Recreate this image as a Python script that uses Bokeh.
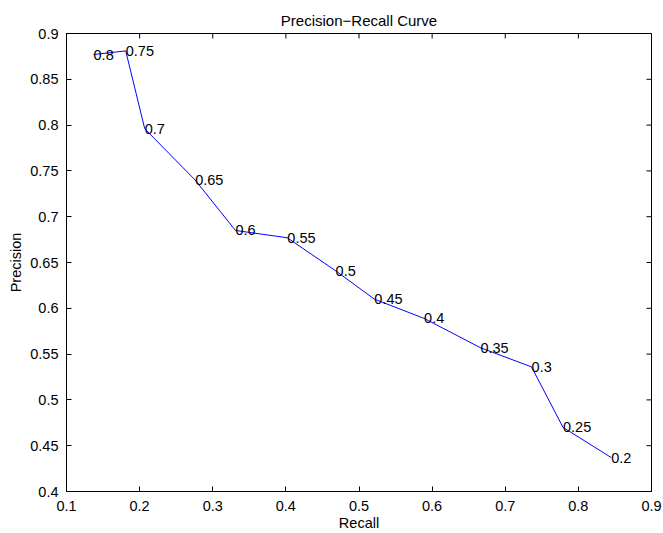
import math
from bokeh.plotting import figure
from bokeh.models import Range1d, ColumnDataSource, FixedTicker
from bokeh.core.properties import value
from bokeh.embed import file_html
from bokeh.resources import INLINE

recall = [0.137, 0.181, 0.207, 0.276, 0.331, 0.402, 0.468, 0.521, 0.589, 0.666, 0.736, 0.779, 0.845]
precision = [0.877, 0.881, 0.796, 0.740, 0.685, 0.677, 0.641, 0.610, 0.589, 0.557, 0.536, 0.470, 0.437]
thresholds = ["0.8", "0.75", "0.7", "0.65", "0.6", "0.55", "0.5", "0.45", "0.4", "0.35", "0.3", "0.25", "0.2"]
x_ticks = [0.1, 0.2, 0.3, 0.4, 0.5, 0.6, 0.7, 0.8, 0.9]
y_ticks = [0.4, 0.45, 0.5, 0.55, 0.6, 0.65, 0.7, 0.75, 0.8, 0.85, 0.9]
x_min, x_max = 0.1, 0.9
y_min, y_max = 0.4, 0.9
title_text = "Precision\u2212Recall Curve"

FONT = "Liberation Sans"

p = figure(width=663, height=533, output_backend="svg", toolbar_location=None,
           x_range=Range1d(x_min, x_max), y_range=Range1d(y_min, y_max),
           min_border_left=66, min_border_right=12, min_border_top=33, min_border_bottom=40,
           x_axis_label="Recall", y_axis_label="Precision")
p.background_fill_color = "white"
p.border_fill_color = "white"
p.outline_line_color = "black"
p.outline_line_width = 1
p.grid.visible = False

p.title.text = title_text
p.title.align = "center"
p.title.text_font = FONT
p.title.text_font_size = "15px"
p.title.text_font_style = "normal"
p.title.text_color = "black"
p.title.standoff = 10
p.title.offset = 0

for ax in (p.xaxis[0], p.yaxis[0]):
    ax.major_tick_in = 5
    ax.major_tick_out = 0
    ax.minor_tick_in = 0
    ax.minor_tick_out = 0
    ax.axis_line_color = "black"
    ax.axis_line_width = 1
    ax.major_label_text_font = FONT
    ax.major_label_text_font_size = "14.5px"
    ax.major_label_text_color = "black"
    ax.axis_label_text_font = FONT
    ax.axis_label_text_font_size = "14.5px"
    ax.axis_label_text_font_style = "normal"
    ax.axis_label_text_color = "black"

p.xaxis[0].ticker = FixedTicker(ticks=x_ticks)
p.yaxis[0].ticker = FixedTicker(ticks=y_ticks)
p.xaxis[0].major_label_standoff = 9
p.xaxis[0].axis_label_standoff = 1
p.yaxis[0].major_label_standoff = 8
p.yaxis[0].axis_label_standoff = 3

# inward ticks on the top and right edges of the box
p.ray(x=x_ticks, y=[y_max] * len(x_ticks), length=5, length_units="screen",
      angle=-math.pi / 2, line_color="black", line_width=1)
p.ray(x=[x_max] * len(y_ticks), y=y_ticks, length=5, length_units="screen",
      angle=math.pi, line_color="black", line_width=1)

src = ColumnDataSource(dict(r=recall, pr=precision, t=thresholds))
p.line("r", "pr", source=src, line_color="#0000ff", line_width=1)
p.text("r", "pr", text="t", source=src, text_align="left", text_baseline="middle",
       text_font=value(FONT), text_font_size="14.5px", text_color="black")

open("out.html", "w").write(file_html(p, INLINE))
